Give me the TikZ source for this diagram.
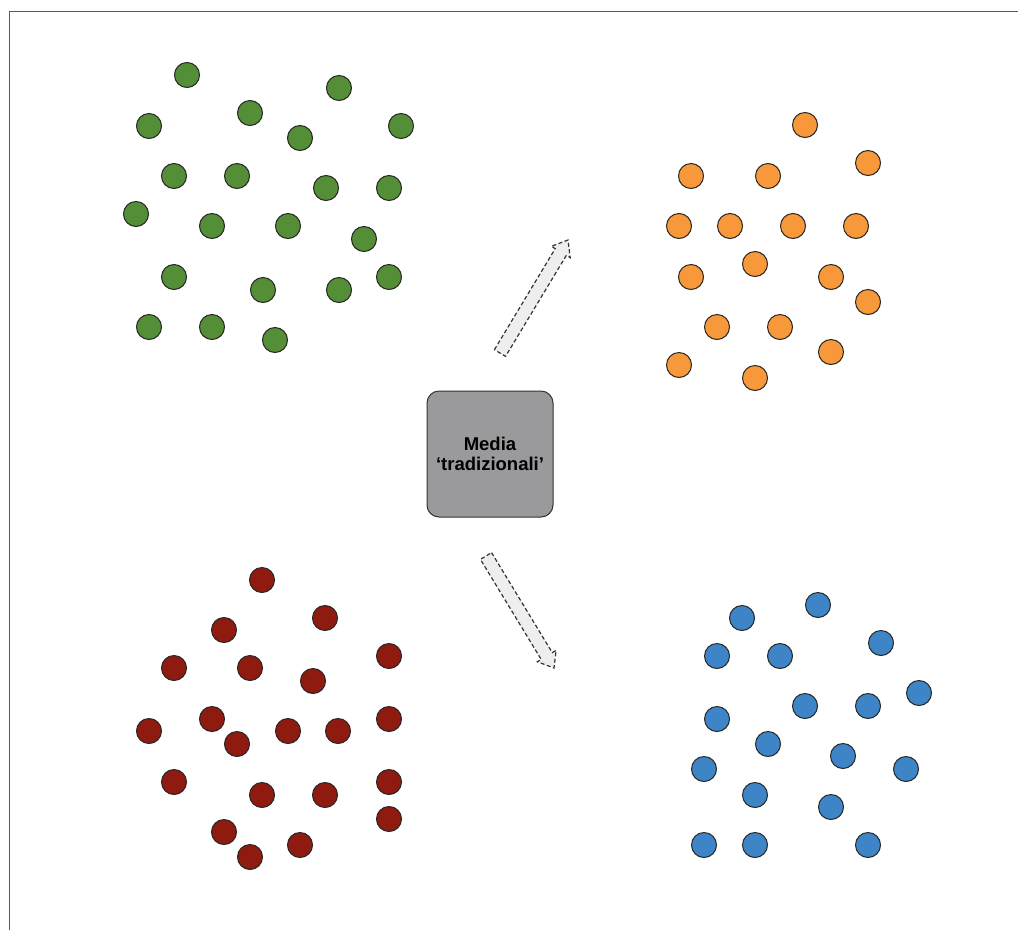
\documentclass[tikz,border=0pt]{standalone}
\usepackage{fontspec}
\newfontfamily\labfont{Liberation Sans}
\usetikzlibrary{calc}
\definecolor{cgreen}{HTML}{548E36}
\definecolor{corange}{HTML}{F7993A}
\definecolor{cred}{HTML}{8E1A10}
\definecolor{cblue}{HTML}{3D85C6}
\definecolor{cbox}{HTML}{9A9A9C}
\definecolor{carrow}{HTML}{EEEEEE}
\tikzset{
  dot/.style={circle, draw=black!85, line width=1pt, minimum size=25pt, inner sep=0pt},
  gdot/.style={dot, fill=cgreen},
  odot/.style={dot, fill=corange},
  rdot/.style={dot, fill=cred},
  bdot/.style={dot, fill=cblue},
  mediabox/.style={draw=black!80, line width=1pt, fill=cbox, rounded corners=12pt,
    minimum width=126pt, minimum height=126pt, align=center,
    font=\labfont\bfseries\fontsize{18.5pt}{20.5pt}\selectfont},
  fatarrow/.style={draw=black!80, dash pattern=on 4pt off 2.5pt, line width=1.2pt, fill=carrow, line join=miter},
  frame/.style={draw=black!65, line width=1pt}
}
\newcommand{\fatarr}[2]{%
  \coordinate (H) at ($(#2)!14pt!(#1)$);
  \draw[fatarrow]
    ($(#1)!6.5pt!90:(#2)$) -- ($(H)!6.5pt!-90:(#1)$) -- ($(H)!11pt!-90:(#1)$) -- (#2)
    -- ($(H)!11pt!90:(#1)$) -- ($(H)!6.5pt!90:(#1)$) -- ($(#1)!6.5pt!-90:(#2)$) -- cycle;}
\begin{document}
\begin{tikzpicture}[x=1pt,y=-1pt]
\useasboundingbox (0,0) rectangle (1018,930);
\fill[white] (0,0) rectangle (1018,930);
\coordinate (fl) at (9,930);
\coordinate (ftl) at (9,11);
\coordinate (ftr) at (1018,11);
\draw[frame] (fl) -- (ftl) -- (ftr);

% green
\foreach \x/\y [count=\i] in {187/75,339/88,250/113,149/126,300/138,401/126,174/176,237/176,326/188,389/188,136/214,212/226,288/226,364/239,174/277,263/290,339/290,389/277,149/327,212/327,275/340}
  \node[gdot] (g\i) at (\x,\y) {};
% orange
\foreach \x/\y [count=\i] in {805/125,868/163,691/176,768/176,679/226,730/226,793/226,856/226,691/277,755/264,831/277,868/302,717/327,780/327,679/365,755/378,831/352}
  \node[odot] (o\i) at (\x,\y) {};
% red
\foreach \x/\y [count=\i] in {262/580,325/618,224/630,174/668,250/668,313/681,389/656,149/731,212/719,237/744,288/731,338/731,389/719,174/782,262/795,325/795,389/782,389/819,224/832,250/857,300/845}
  \node[rdot] (r\i) at (\x,\y) {};
% blue
\foreach \x/\y [count=\i] in {818/605,742/618,717/656,780/656,881/643,919/693,805/706,868/706,717/719,768/744,843/756,704/769,906/769,755/795,831/807,704/845,755/845,868/845}
  \node[bdot] (b\i) at (\x,\y) {};

\node[mediabox] (media) at (490,454) {Media\\‘tradizionali’};

\coordinate (upA) at (500,353);
\coordinate (upB) at (568,240);
\coordinate (dnA) at (486,556);
\coordinate (dnB) at (554,668);
\fatarr{upA}{upB}
\fatarr{dnA}{dnB}
\end{tikzpicture}
\end{document}
